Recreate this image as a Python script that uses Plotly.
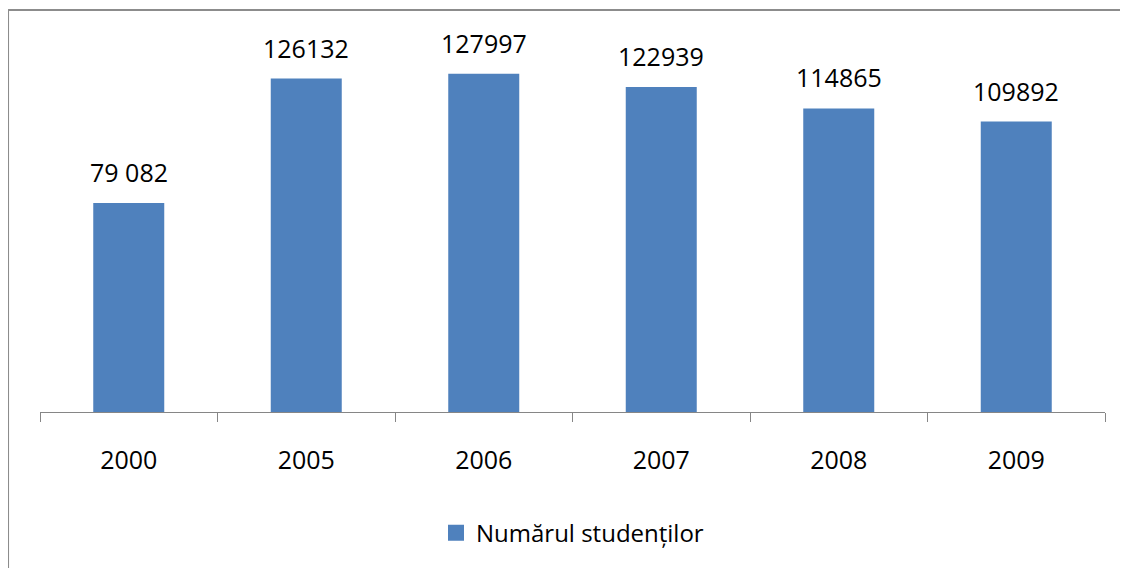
import plotly.graph_objects as go

years = ["2000", "2005", "2006", "2007", "2008", "2009"]
students = [79082, 126132, 127997, 122939, 114865, 109892]
labels = ["79 082", "126132", "127997", "122939", "114865", "109892"]

FONT = "Open Sans"
BLUE = "#4F81BD"
GRAY = "#8C8C8C"

fig = go.Figure()
fig.add_trace(
    go.Bar(
        x=years,
        y=students,
        name="Numărul studenților",
        marker=dict(color=BLUE, line=dict(width=0)),
        showlegend=False,
    )
)
# legend entry with a bigger square swatch
fig.add_trace(
    go.Scatter(
        x=[None], y=[None], mode="markers",
        name="Numărul studenților",
        marker=dict(color=BLUE, symbol="square", size=16),
    )
)

# value labels sit well above the bars, as in the original
for i, (val, lab) in enumerate(zip(students, labels)):
    fig.add_annotation(
        x=i, y=val, text=lab, showarrow=False,
        yanchor="bottom", yshift=12,
        font=dict(family=FONT, size=25, color="#000000"),
    )

# chart frame (only top and left edges visible)
fig.add_shape(type="line", xref="paper", yref="paper",
              x0=-0.0300, x1=1.0216, y0=1.0255, y1=1.0255,
              line=dict(color=GRAY, width=2))
fig.add_shape(type="line", xref="paper", yref="paper",
              x0=-0.0300, x1=-0.0300, y0=1.0255, y1=-0.5,
              line=dict(color=GRAY, width=2))

fig.update_layout(
    width=1120,
    height=560,
    margin=dict(l=32, r=23, t=12, b=156),
    paper_bgcolor="white",
    plot_bgcolor="white",
    bargap=0.6,
    showlegend=True,
    legend=dict(
        orientation="h",
        x=0.5, xanchor="center",
        y=-0.309, yanchor="middle",
        font=dict(family=FONT, size=24, color="#000000"),
    ),
    font=dict(family=FONT, size=25, color="#000000"),
)
fig.update_xaxes(
    type="category",
    range=[-0.5, 5.5],
    showline=True,
    linecolor="#868686",
    linewidth=1,
    ticks="outside",
    tickson="boundaries",
    ticklen=9,
    tickcolor="#868686",
    tickfont=dict(family=FONT, size=25, color="#000000"),
    ticklabelstandoff=26,
    showgrid=False,
)
fig.update_yaxes(range=[0, 148300], visible=False, showgrid=False)

fig.write_html("out.html")
